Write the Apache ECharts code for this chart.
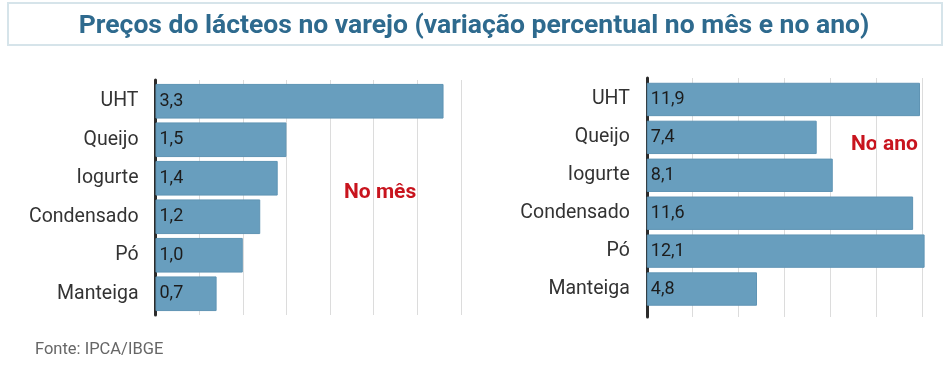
<!DOCTYPE html>
<html>
<head>
<meta charset="utf-8">
<script src="https://cdn.jsdelivr.net/npm/echarts@6/dist/echarts.min.js"></script>
<style>
html,body{margin:0;padding:0;background:#fff;}
#chart{width:948px;height:368px;}
</style>
</head>
<body>
<div id="chart"></div>
<script>
// ---- data ----
const titleText = 'Preços do lácteos no varejo (variação percentual no mês e no ano)';
const sourceText = 'Fonte: IPCA/IBGE';
const categories = ['UHT', 'Queijo', 'Iogurte', 'Condensado', 'Pó', 'Manteiga'];
const monthValues = [3.3, 1.5, 1.4, 1.2, 1.0, 0.7];
const yearValues = [11.9, 7.4, 8.1, 11.6, 12.1, 4.8];
const monthLabel = 'No mês';
const yearLabel = 'No ano';
const monthAxis = { min: 0, max: 3.5, interval: 0.5 };
const yearAxis = { min: 0, max: 12, interval: 2 };

// ---- styles ----
const FONT = 'Roboto';
const barColor = '#689ebe';
const gridColor = '#dcdcdc';
const axisDark = '#2b2b2b';
const red = '#c8141e';

const chart = echarts.init(document.getElementById('chart'), null, { renderer: 'canvas' });

function fmt(v) { return v.toFixed(1).replace('.', ','); }

function frameAxes(gridIndex, ax) {
  return {
    x: {
      type: 'value', gridIndex: gridIndex, min: ax.min, max: ax.max, interval: ax.interval,
      axisLine: { show: false }, axisTick: { show: false }, axisLabel: { show: false },
      splitLine: { show: true, lineStyle: { color: gridColor, width: 1 } }
    },
    y: {
      type: 'value', gridIndex: gridIndex, min: 0, max: 1,
      axisLine: { show: true, lineStyle: { color: axisDark, width: 3 } },
      axisTick: { show: false }, axisLabel: { show: false }, splitLine: { show: false }
    }
  };
}
function barAxes(gridIndex, ax) {
  return {
    x: {
      type: 'value', gridIndex: gridIndex, min: ax.min, max: ax.max, interval: ax.interval,
      axisLine: { show: false }, axisTick: { show: false }, axisLabel: { show: false },
      splitLine: { show: false }
    },
    y: {
      type: 'category', gridIndex: gridIndex, data: categories, inverse: true,
      axisLine: { show: false }, axisTick: { show: false },
      axisLabel: { color: '#333', fontFamily: FONT, fontSize: 19.5, margin: 17 },
      splitLine: { show: false }
    }
  };
}

const fL = frameAxes(0, monthAxis), bL = barAxes(1, monthAxis);
const fR = frameAxes(2, yearAxis), bR = barAxes(3, yearAxis);

function barSeries(axisIndex, values, gap) {
  return {
    type: 'bar', xAxisIndex: axisIndex, yAxisIndex: axisIndex, data: values,
    barCategoryGap: gap, clip: false,
    itemStyle: { color: barColor, borderColor: '#5f94b4', borderWidth: 1 },
    label: {
      show: true, position: 'insideLeft', distance: 4,
      color: '#1c1c1c', fontFamily: FONT, fontSize: 18,
      formatter: p => fmt(p.value)
    },
    silent: true, animation: false
  };
}

chart.setOption({
  animation: false,
  backgroundColor: '#ffffff',
  title: {
    text: titleText, left: 'center', top: 8,
    textStyle: { fontFamily: FONT, fontSize: 26.5, fontWeight: 'bold', color: '#2e6a8e' }
  },
  grid: [
    { left: 155.5, top: 80, width: 305.5, height: 235 },
    { left: 155.5, top: 82, width: 305.5, height: 231 },
    { left: 646.8, top: 78, width: 275.5, height: 239 },
    { left: 646.8, top: 80.5, width: 275.5, height: 227.5 }
  ],
  xAxis: [fL.x, bL.x, fR.x, bR.x],
  yAxis: [fL.y, bL.y, fR.y, bR.y],
  series: [
    barSeries(1, monthValues, '10%'),
    barSeries(3, yearValues, '12%')
  ],
  graphic: [
    { type: 'rect', z: -1, shape: { x: 8, y: 3, width: 934, height: 42 },
      style: { fill: '#ffffff', stroke: '#d6e4ea', lineWidth: 2 } },
    { type: 'text', x: 344, y: 193, style: { text: monthLabel, fill: red, font: 'bold 21px ' + FONT, textVerticalAlign: 'middle' } },
    { type: 'text', x: 851, y: 145, style: { text: yearLabel, fill: red, font: 'bold 21px ' + FONT, textVerticalAlign: 'middle' } },
    { type: 'text', x: 35, y: 350, style: { text: sourceText, fill: '#666666', font: '16.5px ' + FONT, textVerticalAlign: 'middle' } }
  ]
});
</script>
</body>
</html>
